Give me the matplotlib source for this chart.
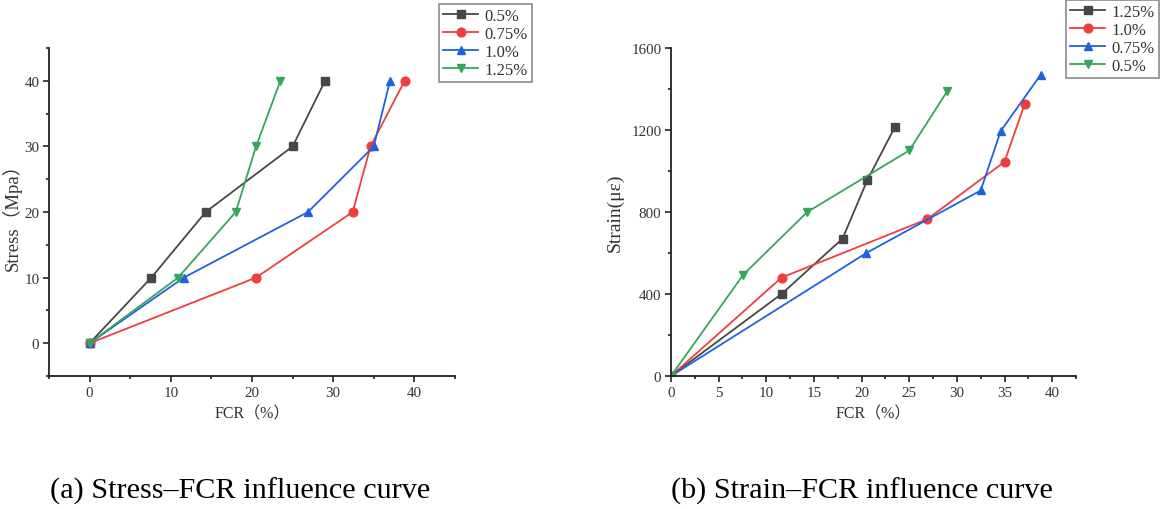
import matplotlib
matplotlib.use("Agg")
import matplotlib.pyplot as plt
from matplotlib.ticker import MultipleLocator

# ---- data: (a) Stress vs FCR ----
stress_levels = [0, 10, 20, 30, 40]
fcr_a_05 = [0, 7.6, 14.3, 25.0, 29.0]
fcr_a_075 = [0, 20.5, 32.4, 34.6, 38.8]
fcr_a_10 = [0, 11.6, 26.9, 35.0, 37.0]
fcr_a_125 = [0, 10.9, 18.0, 20.5, 23.5]
labels_a = ["0.5%", "0.75%", "1.0%", "1.25%"]

# ---- data: (b) Strain vs FCR ----
fcr_b_125 = [0, 11.6, 18.0, 20.6, 23.5]
strain_b_125 = [0, 400, 670, 955, 1215]
fcr_b_10 = [0, 11.6, 26.9, 35.0, 37.1]
strain_b_10 = [0, 480, 765, 1045, 1325]
fcr_b_075 = [0, 20.5, 32.5, 34.6, 38.8]
strain_b_075 = [0, 600, 905, 1195, 1470]
fcr_b_05 = [0, 7.6, 14.3, 25.0, 29.0]
strain_b_05 = [0, 495, 800, 1100, 1390]
labels_b = ["1.25%", "1.0%", "0.75%", "0.5%"]

captions = ["(a) Stress\u2013FCR influence curve", "(b) Strain\u2013FCR influence curve"]

colors = ["#474747", "#ef3e3e", "#1f62e0", "#36a65c"]
markers = ["s", "o", "^", "v"]

SERIF = ["Liberation Serif", "Noto Sans CJK SC"]
plt.rcParams["font.family"] = SERIF

fig = plt.figure(figsize=(11.62, 5.10), dpi=100)
W, H = 1162, 510

def axrect(x0, x1, y0, y1):
    return [x0 / W, 1 - y1 / H, (x1 - x0) / W, (y1 - y0) / H]

axa = fig.add_axes(axrect(49, 455, 49, 377))
axb = fig.add_axes(axrect(671, 1076, 49, 377))

def style(ax):
    for s in ["top", "right"]:
        ax.spines[s].set_visible(False)
    for s in ["left", "bottom"]:
        ax.spines[s].set_linewidth(1.3)
        ax.spines[s].set_color("#222222")
    ax.tick_params(which="major", direction="out", length=4, width=1.2,
                   labelsize=10.8, colors="#222222", labelcolor="#333333", pad=3)
    ax.tick_params(which="minor", direction="out", length=2.2, width=1.2, colors="#222222")

# (a)
series_a = [fcr_a_05, fcr_a_075, fcr_a_10, fcr_a_125]
for xs, c, m, lab in zip(series_a, colors, markers, labels_a):
    axa.plot(xs, stress_levels, color=c, marker=m, markersize=6.3, linewidth=1.3, label=lab)
axa.set_xlim(-5, 45)
axa.set_ylim(-5, 45)
axa.xaxis.set_minor_locator(MultipleLocator(5))
axa.yaxis.set_minor_locator(MultipleLocator(5))
axa.set_xticks([0, 10, 20, 30, 40])
axa.set_yticks([0, 10, 20, 30, 40])
style(axa)
axa.set_xlabel("FCR\uff08%\uff09", fontsize=11.5, color="#333333", labelpad=5)
axa.set_ylabel("Stress\uff08Mpa\uff09", fontsize=13.5, color="#333333", labelpad=2)

# (b)
series_b = [(fcr_b_125, strain_b_125), (fcr_b_10, strain_b_10),
            (fcr_b_075, strain_b_075), (fcr_b_05, strain_b_05)]
for (xs, ys), c, m, lab in zip(series_b, colors, markers, labels_b):
    axb.plot(xs, ys, color=c, marker=m, markersize=6.3, linewidth=1.3, label=lab)
axb.set_xlim(0, 42.5)
axb.set_ylim(0, 1600)
axb.xaxis.set_major_locator(MultipleLocator(5))
axb.xaxis.set_minor_locator(MultipleLocator(2.5))
axb.yaxis.set_major_locator(MultipleLocator(400))
axb.yaxis.set_minor_locator(MultipleLocator(200))
style(axb)
axb.set_xlabel("FCR\uff08%\uff09", fontsize=11.5, color="#333333", labelpad=5)
axb.set_ylabel("Strain(\u03bc\u03b5)", fontsize=14, color="#333333", labelpad=5)

def add_legend(ax, x0, y0):
    leg = ax.legend(loc="upper left", bbox_to_anchor=(x0 / W, 1 - y0 / H),
                    bbox_transform=fig.transFigure, frameon=True, fancybox=False,
                    edgecolor="#8a8a8a", framealpha=1, fontsize=12,
                    handlelength=2.1, handletextpad=0.4, labelspacing=0.12,
                    borderpad=0.25, borderaxespad=0)
    leg.get_frame().set_linewidth(1.2)
    for t in leg.get_texts():
        t.set_color("#333333")
    return leg

add_legend(axa, 439, 5)
add_legend(axb, 1066, 1)

fig.text(240 / W, 1 - 491 / H, captions[0], ha="center", va="center",
         fontsize=21.8, family=["Liberation Serif"], color="black")
fig.text(862 / W, 1 - 491 / H, captions[1], ha="center", va="center",
         fontsize=21.8, family=["Liberation Serif"], color="black")

fig.savefig("out.png", dpi=100)
